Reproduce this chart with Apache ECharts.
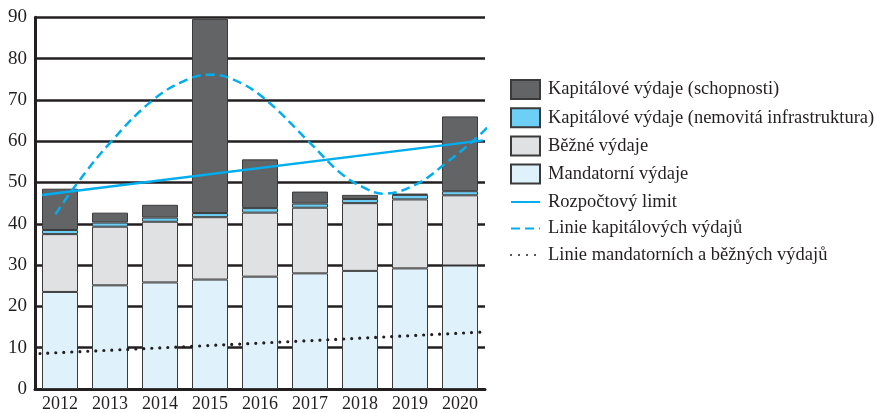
<!DOCTYPE html>
<html>
<head>
<meta charset="utf-8">
<script src="https://cdn.jsdelivr.net/npm/echarts@6/dist/echarts.min.js"></script>
<style>
  html, body { margin: 0; padding: 0; background: #fff; }
  #chart { width: 877px; height: 413px; }
</style>
</head>
<body>
<div id="chart"></div>
<script>
const years = ['2012', '2013', '2014', '2015', '2016', '2017', '2018', '2019', '2020']
const yTicks = [0, 90, 10]

// stacked parts, bottom to top
const mandatorni = [23.5, 25.1, 25.8, 26.5, 27.2, 28.0, 28.6, 29.2, 29.9]
const bezne      = [14.0, 14.2, 14.7, 15.1, 15.5, 15.9, 16.4, 16.7, 17.0]
const nemovita   = [1.0, 1.0, 1.0, 1.0, 1.1, 1.0, 1.0, 1.1, 1.0]
const schopnosti = [10.0, 2.4, 3.1, 47.0, 11.8, 2.9, 1.0, 0.3, 18.1]

// lines, x measured in category widths from the left edge of the plot
const limitLine = [[0.14, 47.0], [8.96, 60.2]]
const kapitalLine = [
  [0.41, 42.3], [0.83, 49.6], [1.5, 59.6], [2.36, 70.0], [3.04, 74.9], [3.5, 76.1],
  [3.97, 74.9], [4.57, 70.5], [5.5, 59.6], [6.1, 52.4], [6.57, 48.8], [6.97, 47.3],
  [7.63, 49.6], [8.23, 54.8], [8.83, 60.8], [9.08, 63.8]
]
const mandatLine = [[0.1, 8.6], [4.3, 11.0], [8.96, 13.8]]

const names = [
  'Kapitálové výdaje (schopnosti)',
  'Kapitálové výdaje (nemovitá infrastruktura)',
  'Běžné výdaje',
  'Mandatorní výdaje',
  'Rozpočtový limit',
  'Linie kapitálových výdajů',
  'Linie mandatorních a běžných výdajů'
]

const ink = '#231f20'
const font = 'Liberation Serif'

const bar = (name, data, color) => ({
  name: name,
  type: 'bar',
  stack: 'total',
  barWidth: 36,
  data: data,
  itemStyle: { color: color, borderColor: '#3a3a3a', borderWidth: 1 },
  emphasis: { disabled: true }
})

const line = (name, data, style, smooth) => ({
  name: name,
  type: 'line',
  xAxisIndex: 1,
  data: data,
  symbol: 'none',
  smooth: smooth,
  clip: false,
  z: 5,
  lineStyle: style,
  emphasis: { disabled: true }
})

const legendBase = {
  left: 510,
  padding: 0,
  orient: 'vertical',
  itemWidth: 29,
  itemHeight: 19,
  textStyle: { fontFamily: font, fontSize: 18.5, color: ink, padding: [0, 0, 0, 3] }
}

const options = {
  backgroundColor: '#fff',
  animation: false,
  grid: { left: 35, right: 392, top: 17.3, bottom: 22.3 },
  legend: [
    // bars get a plain square icon
    Object.assign({}, legendBase, {
      top: 79,
      itemGap: 7.2,
      data: names.slice(0, 4).map(n => ({ name: n, icon: 'rect' }))
    }),
    // lines show only their stroke
    Object.assign({}, legendBase, {
      top: 192.5,
      itemGap: 7.5,
      data: names.slice(4).map(n => ({ name: n, itemStyle: { opacity: 0 } }))
    })
  ],
  xAxis: [
    {
      type: 'category',
      data: years,
      axisLine: { lineStyle: { color: ink, width: 3 } },
      axisTick: { inside: true, length: 9, lineStyle: { color: ink, width: 2.5 } },
      axisLabel: { fontFamily: font, fontSize: 18, color: ink, margin: 6 }
    },
    { type: 'value', min: 0, max: 9, show: false }
  ],
  yAxis: {
    type: 'value',
    min: yTicks[0],
    max: yTicks[1],
    interval: yTicks[2],
    axisLine: { show: true, lineStyle: { color: ink, width: 3 } },
    axisTick: { show: false },
    axisLabel: { fontFamily: font, fontSize: 19, color: ink, margin: 8 },
    splitLine: { lineStyle: { color: ink, width: 2.5 } }
  },
  series: [
    bar(names[3], mandatorni, '#dff1fb'),
    bar(names[2], bezne, '#e0e1e3'),
    bar(names[1], nemovita, '#6dcff6'),
    bar(names[0], schopnosti, '#636466'),
    line(names[4], limitLine, { color: '#00aeef', width: 2.5 }, false),
    line(names[5], kapitalLine, { color: '#00aeef', width: 2.5, type: [9, 5] }, 0.4),
    line(names[6], mandatLine, { color: ink, width: 3.2, type: [0, 8], cap: 'round' }, true)
  ]
}

const ChartEl = echarts.init(document.getElementById('chart'))
ChartEl.setOption(options)
</script>
</body>
</html>
